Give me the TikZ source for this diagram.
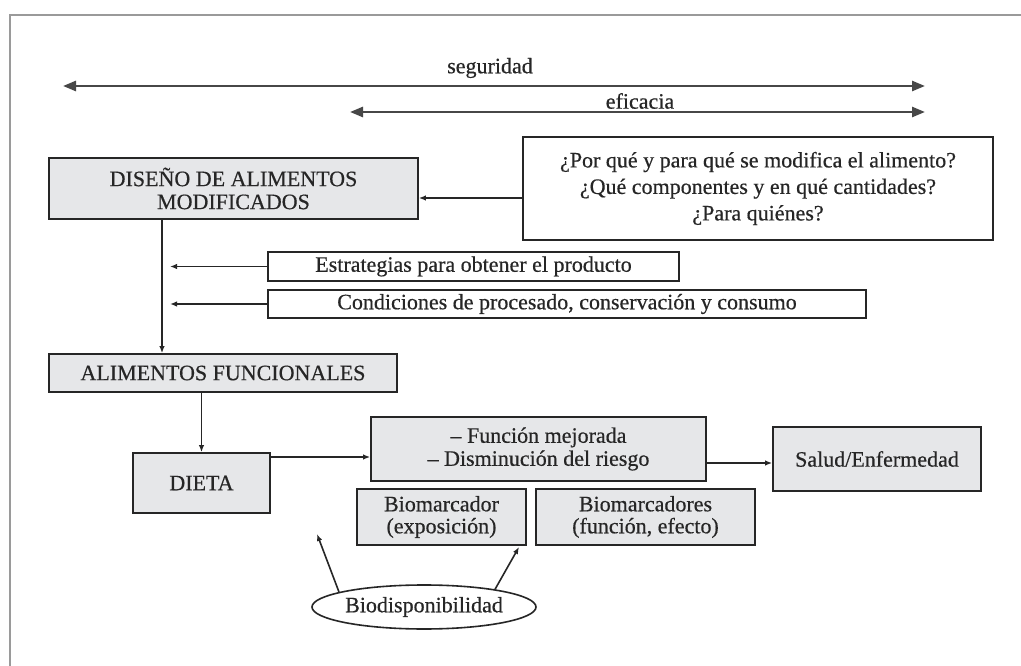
\documentclass[tikz,border=0pt]{standalone}
\usepackage{fontspec}
\setmainfont{Liberation Serif}[FakeBold=0.5]
\usetikzlibrary{shapes.geometric,arrows.meta}
\definecolor{boxgray}{HTML}{E6E7E9}
\definecolor{ink}{HTML}{262626}
\definecolor{framegray}{HTML}{9A9A9A}
\begin{document}
\begin{tikzpicture}[x=1pt,y=-1pt,
  box/.style={draw=ink, line width=1.7pt, fill=boxgray, inner sep=0pt, align=center, text=ink, font=\fontsize{22}{23}\selectfont},
  wbox/.style={box, fill=white},
  conn/.style={draw=ink, line width=1.6pt, -{Latex[length=7pt,width=5.5pt]}},
  bigarrow/.style={draw=black!72, line width=2.6pt, {Triangle[length=13pt,width=10pt]}-{Triangle[length=13pt,width=10pt]}},
  lab/.style={text=ink, font=\fontsize{22}{23}\selectfont, inner sep=0pt}]
\useasboundingbox (0,0) rectangle (1021,666);
\fill[white] (0,0) rectangle (1021,666);
\draw[framegray, line width=2pt] (10,666) -- (10,15) -- (1021,15);

% top double arrows
\node[lab] (seg) at (490,68) {seguridad};
\node[lab] (efi) at (640,101) {eficacia};
\coordinate (segL) at (63,86); \coordinate (segR) at (925,86);
\coordinate (efiL) at (350,112); \coordinate (efiR) at (925,112);
\draw[bigarrow] (segL) -- (segR);
\draw[bigarrow] (efiL) -- (efiR);

% boxes
\node[wbox, minimum width=470pt, minimum height=103pt, font=\fontsize{22}{26.5}\selectfont] (q) at (758,188.5)
  {¿Por qué y para qué se modifica el alimento?\\¿Qué componentes y en qué cantidades?\\¿Para quiénes?};
\node[box, minimum width=369pt, minimum height=61pt] (dis) at (233.5,188.5) {DISEÑO DE ALIMENTOS\\MODIFICADOS};
\node[wbox, minimum width=411pt, minimum height=29pt] (estr) at (473.5,266.5) {Estrategias para obtener el producto};
\node[wbox, minimum width=598pt, minimum height=28pt] (cond) at (567,304) {Condiciones de procesado, conservación y consumo};
\node[box, minimum width=348pt, minimum height=38pt] (alf) at (223,373) {ALIMENTOS FUNCIONALES};
\node[box, minimum width=137pt, minimum height=60pt] (dieta) at (201.5,483) {DIETA};
\node[box, minimum width=335pt, minimum height=64pt] (fun) at (538.5,449) {– Función mejorada\\– Disminución del riesgo};
\node[box, minimum width=208pt, minimum height=64pt] (sal) at (877,459) {Salud/Enfermedad};
\node[box, minimum width=169pt, minimum height=56pt, font=\fontsize{22}{22}\selectfont] (bm1) at (441.5,517) {Biomarcador\\(exposición)};
\node[box, minimum width=219pt, minimum height=56pt, font=\fontsize{22}{22}\selectfont] (bm2) at (645.5,517) {Biomarcadores\\(función, efecto)};
\node[ellipse, draw=ink, line width=1.6pt, fill=white, inner sep=0pt, minimum width=224pt, minimum height=44pt, text=ink, font=\fontsize{22}{23}\selectfont] (bio) at (424,607) {Biodisponibilidad};

% helper coordinates
\coordinate (yq) at (0,198);
\coordinate (vx) at (162,0);
\coordinate (tx) at (170,0);
\coordinate (y457) at (0,457);
\coordinate (y463) at (0,463);
\coordinate (lt) at (317,534);
\coordinate (rt) at (519,547);

% connectors
\draw[conn] (q.west |- yq) -- (dis.east |- yq);
\draw[conn] (dis.south -| vx) -- (alf.north -| vx);
\draw[conn] (estr.west) -- (estr.west -| tx);
\draw[conn] (cond.west) -- (cond.west -| tx);
\draw[conn] (alf.south -| dieta.north) -- (dieta.north);
\draw[conn] (dieta.east |- y457) -- (fun.west |- y457);
\draw[conn] (fun.east |- y463) -- (sal.west |- y463);
\draw[conn] (bio.170) -- (lt);
\draw[conn] (bio.14) -- (rt);
\end{tikzpicture}
\end{document}
